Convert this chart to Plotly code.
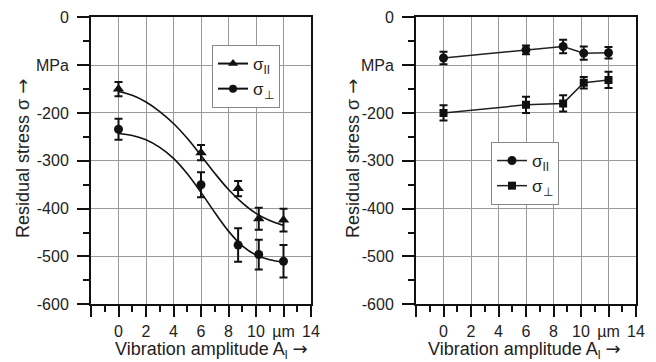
import plotly.graph_objects as go

# ---------------- data ----------------
x_pts = [0, 6, 8.7, 10.2, 12]

# left panel (measured)
par_left = [-150, -283, -358, -421, -424]
par_left_err = [15, 16, 16, 23, 24]
perp_left = [-234, -350, -476, -496, -510]
perp_left_err = [22, 26, 35, 31, 34]

# left panel fitted curves
fit_x = [0, 1, 2, 3, 4, 5, 6, 7, 8, 9, 10, 11, 12]
fit_par = [-155, -163, -177, -197, -222, -253, -289, -326, -360, -388, -410, -425, -435]
fit_perp = [-243, -247, -256, -272, -295, -327, -366, -408, -447, -478, -497, -507, -512]

# right panel
par_right = [-85, -68, -61, -75, -74]
par_right_err = [13, 9, 14, 14, 12]
perp_right = [-200, -183, -180, -137, -131]
perp_right_err = [16, 17, 17, 12, 17]

x_tickvals = [-2, 0, 2, 4, 6, 8, 10, 12, 14]
x_ticktext = ["", "0", "2", "4", "6", "8", "10", "\u00b5m", "14"]
y_tickvals = [0, -100, -200, -300, -400, -500, -600]
y_ticktext = ["0", "MPa", "-200", "-300", "-400", "-500", "-600"]

lbl_par = "\u03c3<sub>II</sub>"
lbl_perp = "\u03c3<sub>\u22a5</sub>"

W, H = 656, 362
FONT = "Liberation Sans, Arial, sans-serif"
INK = "#111111"
TXT = "#222222"
ARROW = "<span style=\"font-family:'DejaVu Sans'\">\u2192</span>"

fig = go.Figure()

def err(arr):
    return dict(type="data", array=arr, visible=True, color=INK, thickness=2, width=4)

# ---- left panel ----
fig.add_trace(go.Scatter(x=fit_x, y=fit_par, mode="lines", line=dict(color=INK, width=1.6, shape="spline"),
                         showlegend=False, xaxis="x", yaxis="y", hoverinfo="skip"))
fig.add_trace(go.Scatter(x=fit_x, y=fit_perp, mode="lines", line=dict(color=INK, width=1.6, shape="spline"),
                         showlegend=False, xaxis="x", yaxis="y", hoverinfo="skip"))
fig.add_trace(go.Scatter(x=x_pts, y=par_left, mode="markers", error_y=err(par_left_err),
                         marker=dict(symbol="triangle-up", size=10, color=INK),
                         showlegend=False, xaxis="x", yaxis="y"))
fig.add_trace(go.Scatter(x=x_pts, y=perp_left, mode="markers", error_y=err(perp_left_err),
                         marker=dict(symbol="circle", size=9, color=INK),
                         showlegend=False, xaxis="x", yaxis="y"))
# legend entries (left)
fig.add_trace(go.Scatter(x=[None], y=[None], mode="lines+markers", name=lbl_par,
                         line=dict(color=INK, width=2), marker=dict(symbol="triangle-up", size=9, color=INK),
                         legend="legend", legendgroup="a", xaxis="x", yaxis="y"))
fig.add_trace(go.Scatter(x=[None], y=[None], mode="lines+markers", name=lbl_perp,
                         line=dict(color=INK, width=2), marker=dict(symbol="circle", size=8, color=INK),
                         legend="legend", legendgroup="b", xaxis="x", yaxis="y"))

# ---- right panel ----
fig.add_trace(go.Scatter(x=x_pts, y=par_right, mode="lines+markers", error_y=err(par_right_err),
                         line=dict(color="#222222", width=1.5),
                         marker=dict(symbol="circle", size=9, color=INK),
                         name=lbl_par, legend="legend2", legendgroup="c", xaxis="x2", yaxis="y2"))
fig.add_trace(go.Scatter(x=x_pts, y=perp_right, mode="lines+markers", error_y=err(perp_right_err),
                         line=dict(color="#222222", width=1.5),
                         marker=dict(symbol="square", size=8, color=INK),
                         name=lbl_perp, legend="legend2", legendgroup="d", xaxis="x2", yaxis="y2"))

ydom = [1 - 304.3 / H, 1 - 17.3 / H]

def xax(dom, anchor):
    return dict(domain=dom, anchor=anchor, range=[-2, 14], tickmode="array",
                tickvals=x_tickvals, ticktext=x_ticktext, ticks="outside", ticklen=11, tickwidth=2,
                tickcolor=INK, showline=True, linecolor=INK, linewidth=2, mirror=True,
                showgrid=True, gridcolor="#9a9a9a", gridwidth=1, zeroline=False,
                tickfont=dict(family=FONT, size=16, color=TXT), automargin=False,
                minor=dict(tickmode="linear", tick0=0, dtick=1, ticks="outside", ticklen=6,
                           tickwidth=2, tickcolor=INK, showgrid=False))

def yax(anchor):
    return dict(domain=ydom, anchor=anchor, range=[-600, 0], tickmode="array",
                tickvals=y_tickvals, ticktext=y_ticktext, ticks="outside", ticklen=12, tickwidth=2,
                tickcolor=INK, showline=True, linecolor=INK, linewidth=2, mirror=True,
                showgrid=True, gridcolor="#9a9a9a", gridwidth=1, zeroline=False,
                tickfont=dict(family=FONT, size=16, color=TXT), automargin=False, ticklabelstandoff=5,
                minor=dict(tickmode="linear", tick0=0, dtick=50, ticks="outside", ticklen=6,
                           tickwidth=2, tickcolor=INK, showgrid=False))

leg_common = dict(xanchor="left", yanchor="top", bordercolor="#888", borderwidth=1, bgcolor="white",
                  font=dict(family=FONT, size=17, color=TXT), traceorder="grouped", tracegroupgap=0)

title_font = dict(family=FONT, size=18, color=TXT)

fig.update_layout(
    width=W, height=H, margin=dict(l=0, r=0, t=0, b=0),
    paper_bgcolor="white", plot_bgcolor="white",
    xaxis=xax([91 / W, 311 / W], "y"),
    yaxis=yax("x"),
    xaxis2=xax([416 / W, 636 / W], "y2"),
    yaxis2=yax("x2"),
    legend=dict(x=212 / W, y=1 - 45 / H, **leg_common),
    legend2=dict(x=491 / W, y=1 - 142 / H, **leg_common),
    showlegend=True,
    annotations=[
        dict(text="Vibration amplitude A<sub>l</sub> " + ARROW, x=211 / W, y=1 - 350 / H, xref="paper", yref="paper",
             showarrow=False, xanchor="center", yanchor="middle", font=title_font),
        dict(text="Vibration amplitude A<sub>l</sub> " + ARROW, x=524 / W, y=1 - 350 / H, xref="paper", yref="paper",
             showarrow=False, xanchor="center", yanchor="middle", font=title_font),
        dict(text="Residual stress \u03c3 " + ARROW, x=22 / W, y=1 - 159 / H, xref="paper", yref="paper",
             showarrow=False, textangle=-90, xanchor="center", yanchor="middle", font=title_font),
        dict(text="Residual stress \u03c3 " + ARROW, x=352 / W, y=1 - 159 / H, xref="paper", yref="paper",
             showarrow=False, textangle=-90, xanchor="center", yanchor="middle", font=title_font),
    ],
)

fig.write_html("out.html")
